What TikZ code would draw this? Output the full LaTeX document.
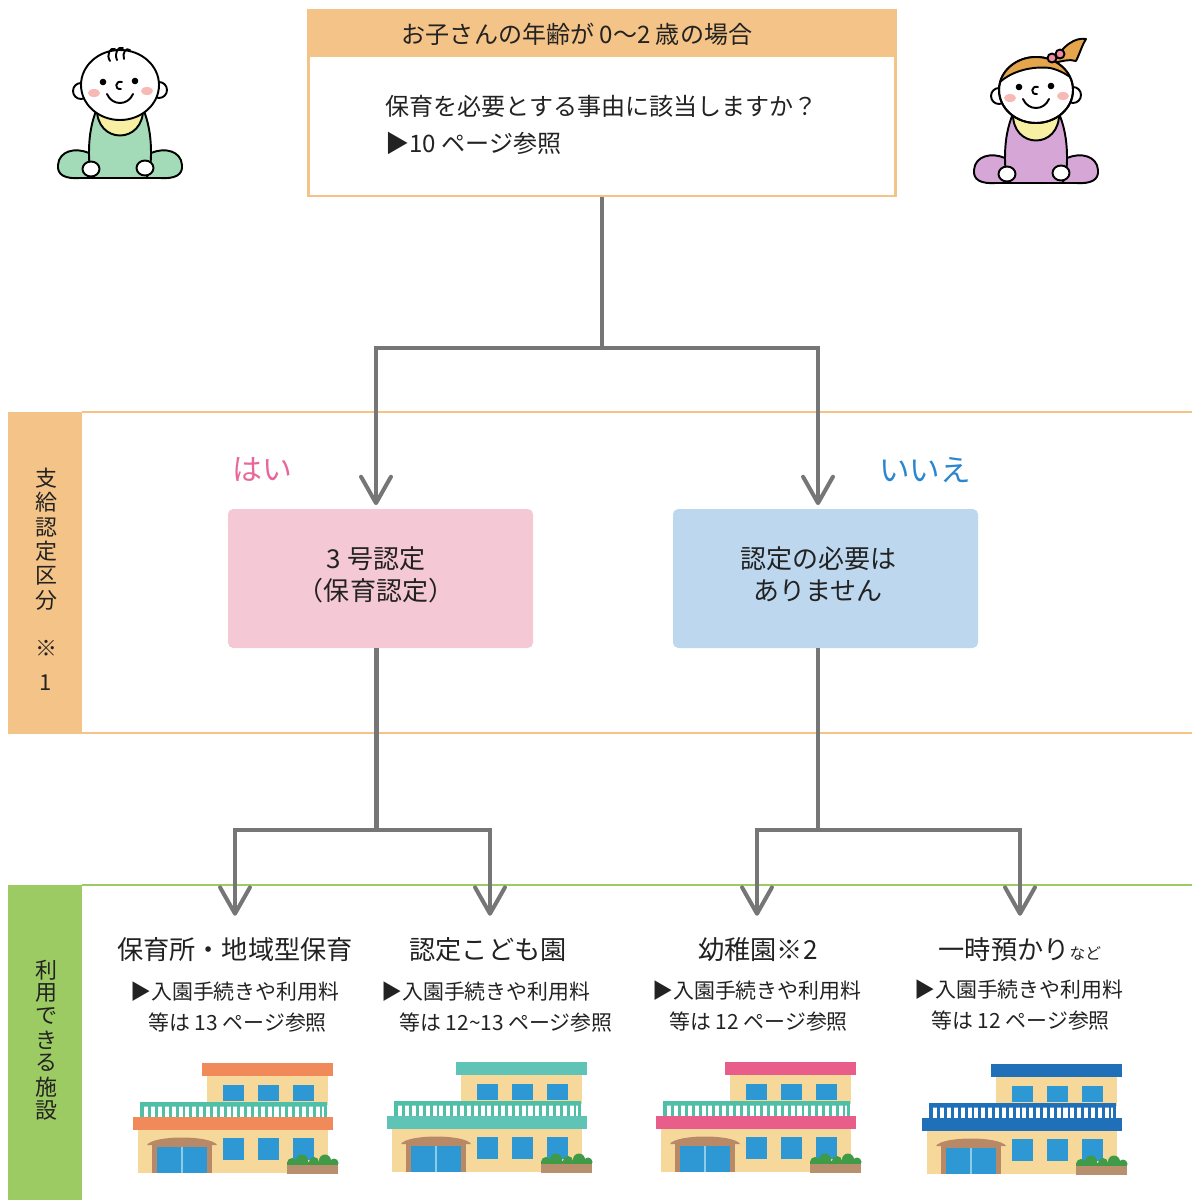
\documentclass[tikz,border=0pt]{standalone}
\usepackage{fontspec}
\setmainfont{Noto Sans CJK JP}
\usetikzlibrary{arrows.meta,calc}

\definecolor{bandorange}{HTML}{F4C387}
\definecolor{bandgreen}{HTML}{9DCB63}
\definecolor{linkgray}{HTML}{767676}
\definecolor{yesfill}{HTML}{F4C8D5}
\definecolor{nofill}{HTML}{BDD7EE}
\definecolor{yesword}{HTML}{E8679A}
\definecolor{noword}{HTML}{2C86CE}
\definecolor{ink}{HTML}{222222}
\definecolor{wall}{HTML}{F6D89A}
\definecolor{glass}{HTML}{2E98D4}
\definecolor{glassline}{HTML}{8CCBEA}
\definecolor{wood}{HTML}{B88966}
\definecolor{planter}{HTML}{B9906E}
\definecolor{bush}{HTML}{3F9B48}
\definecolor{roofA}{HTML}{F08A5B}
\definecolor{roofB}{HTML}{5FC3B6}
\definecolor{roofC}{HTML}{E95D8A}
\definecolor{roofD}{HTML}{1F70B9}
\definecolor{railteal}{HTML}{4FBFA8}
\definecolor{suitgreen}{HTML}{A3DBB8}
\definecolor{suitpurple}{HTML}{D5A6D6}
\definecolor{bibyellow}{HTML}{F7EFA2}
\definecolor{cheek}{HTML}{F7B9B4}
\definecolor{hair}{HTML}{E4A54C}
\definecolor{bow}{HTML}{F08CA0}

\def\u{0.02cm}

\tikzset{
  every node/.style={text=ink},
  conn/.style={draw=linkgray, line width=2.3pt},
  arr/.style={conn, -{Straight Barb[length=15pt,width=17pt,round]}, shorten >=2pt},
  farr/.style={conn, -{Straight Barb[length=15pt,width=17pt,round]}, shorten >=16pt},
  headtxt/.style={font=\fontsize{13.7pt}{16pt}\selectfont, inner sep=0},
  boxtxt/.style={font=\fontsize{14.8pt}{18.1pt}\selectfont, align=center},
  choice/.style={minimum width=305*\u, minimum height=139*\u, rounded corners=3pt, inner sep=0},
  vlab/.style={font=\fontsize{12.5pt}{14pt}\selectfont, inner sep=0},
  factitle/.style={font=\fontsize{14.9pt}{17pt}\selectfont, inner sep=0, text height=0.88em, text depth=0.12em},
  facsub/.style={font=\fontsize{11.9pt}{14pt}\selectfont, inner sep=0, anchor=west},
  outl/.style={draw=black, line width=1.1pt, line join=round, line cap=round},
  % two-storey house: #1 roof and band colour, #2 railing colour
  pics/house/.style 2 args={code={
    \fill[#1] (69,0) rectangle (200,13);
    \fill[wall] (74,13) rectangle (195,42);
    \foreach \wx in {90,125,160}{\fill[glass] (\wx,22) rectangle ++(21,16);}
    \fill[#2, rounded corners=1pt] (7,39) rectangle (194,43.5);
    \foreach \k in {0,...,26}{\fill[#2] ({8.5+\k*6.85},42) rectangle ++(2.8,12);}
    \fill[#2] (7,39) rectangle (10,54);
    \fill[#2] (191,39) rectangle (194,54);
    \fill[#1] (0,54) rectangle (200,67);
    \fill[wall] (5,67) rectangle (195,110);
    \foreach \wx in {90,125,160}{\fill[glass] (\wx,75) rectangle ++(21,22);}
    \fill[wood] (14,82) .. controls (20,72) and (78,72) .. (84,82) -- cycle;
    \fill[wood] (19,80) rectangle (79,110);
    \fill[glass] (24,84) rectangle (74,110);
    \draw[glassline, line width=0.6pt] (49,84) -- (49,110);
    \fill[bush] (159,100) circle (5) (169,97.5) circle (6) (181,99) circle (5)
                (192,97.5) circle (6) (201,100) circle (4.5);
    \fill[bush] (154,99) rectangle (205,103);
    \fill[planter] (154,102) rectangle (205,111);
  }},
  % seated baby body, #1 suit colour
  pics/babybody/.style={code={
    \draw[outl, fill=#1] (-24,26) .. controls (-30,42) and (-31,56) .. (-31,68)
       .. controls (-45,62) and (-61,66) .. (-62,80)
       .. controls (-63,90) and (-55,94) .. (-40,93) -- (40,93)
       .. controls (55,94) and (63,90) .. (62,80)
       .. controls (61,66) and (45,62) .. (31,68)
       .. controls (31,56) and (30,42) .. (24,26) -- cycle;
    \draw[outl] (-31,68) .. controls (-31,78) and (-30,86) .. (-27,92);
    \draw[outl] (31,68) .. controls (31,78) and (30,86) .. (27,92);
    \draw[outl, fill=bibyellow] (-23,22) .. controls (-25,60) and (25,60) .. (23,22) -- cycle;
    \draw[outl, fill=white] (-29,84) ellipse (8.5 and 7.5);
    \draw[outl, fill=white] (25,83) ellipse (8.5 and 7.5);
  }},
  % round face with features, #1 half width, #2 half height
  pics/babyface/.style 2 args={code={
    \draw[outl, fill=white] (-#1,6) circle (8);
    \draw[outl, fill=white] (#1,5) circle (8);
    \draw[outl, fill=white] (0,0) ellipse (#1 and #2);
    \fill[cheek] (-26,8) ellipse (6 and 4);
    \fill[cheek] (27,6) ellipse (6 and 4);
    \fill[black] (-17,-3) circle (3.3);
    \fill[black] (15,-4) circle (3.3);
    \draw[outl] (2,-3) .. controls (-5,-5) and (-6,5) .. (1,4);
    \draw[outl] (-13,9) .. controls (-8,21) and (8,21) .. (13,9);
  }}
}

\begin{document}
\begin{tikzpicture}[x=0.02cm, y=-0.02cm]
\useasboundingbox (0,0) rectangle (1192,1200);

% ---------- babies ----------
\pic at (120,85) {babybody=suitgreen};
\pic at (120,85) {babyface={39}{35}};
\begin{scope}[shift={(120,85)}]
  \draw[outl] (-10,-24) .. controls (-14,-30) and (-10,-38) .. (-5,-36);
  \draw[outl] (-3,-25) .. controls (-6,-32) and (-2,-39) .. (3,-37);
  \draw[outl] (4,-26) .. controls (2,-32) and (6,-38) .. (10,-35);
\end{scope}

\pic at (1036,90) {babybody=suitpurple};
\pic at (1036,90) {babyface={37}{33}};
\begin{scope}[shift={(1036,90)}]
  \draw[outl, fill=hair] (18,-27) .. controls (26,-45) and (40,-53) .. (50,-51)
     .. controls (46,-45) and (44,-37) .. (40,-29) .. controls (34,-31) and (26,-29) .. (18,-27) -- cycle;
  \begin{scope}
    \clip (0,0) ellipse (37 and 33);
    \fill[hair] (-40,-4) .. controls (-26,-20) and (-2,-24) .. (14,-22)
       .. controls (24,-20) and (34,-14) .. (40,-8) -- (40,-40) -- (-40,-40) -- cycle;
    \draw[outl] (-40,-4) .. controls (-26,-20) and (-2,-24) .. (14,-22)
       .. controls (24,-20) and (34,-14) .. (40,-8);
  \end{scope}
  \draw[outl] (0,0) ellipse (37 and 33);
  \draw[outl, fill=bow] (16,-32) circle (4.5);
  \draw[outl, fill=bow] (24,-36) circle (4.5);
\end{scope}

% ---------- question box ----------
\fill[bandorange] (308.5,10) rectangle (895.5,57);
\node[draw=bandorange, line width=1.4pt, minimum width=587*\u, minimum height=186*\u, inner sep=0]
  (q) at (602,103) {};
\node[headtxt] (qhead) at (577,34) {お子さんの年齢が 0～2 歳の場合};
\node[headtxt, anchor=west] (qline1) at (385,106) {保育を必要とする事由に該当しますか？};
\node[headtxt, anchor=west] (qline2) at (385,143) {▶10 ページ参照};

% ---------- certification band ----------
\fill[bandorange] (8,411.5) rectangle (82,733.5);
\draw[bandorange, line width=1.2pt] (82,412) -- (1192,412);
\draw[bandorange, line width=1.2pt] (82,733) -- (1192,733);
\foreach \c/\yy [count=\i] in {支/478,給/502,認/527,定/551,区/576,分/600,※/648,1/683}
  \node[vlab] (cert\i) at (46,\yy) {\c};

\node[font=\fontsize{17pt}{20pt}\selectfont, text=yesword] (yesword) at (262,470) {はい};
\node[font=\fontsize{17.4pt}{20pt}\selectfont, text=noword] (noword) at (925,470) {いいえ};

\node[choice, fill=yesfill] (yes) at (380.5,578.5) {};
\node[boxtxt] (yestxt) at ($(yes)+(-4.5,-4)$) {3 号認定\\（保育認定）};
\node[choice, fill=nofill] (no) at (825.5,578.5) {};
\node[boxtxt] (notxt) at ($(no)+(-7.5,-4)$) {認定の必要は\\ありません};

% ---------- facility band ----------
\fill[bandgreen] (8,884.5) rectangle (82,1200);
\draw[bandgreen, line width=1.2pt] (82,885) -- (1192,885);
\foreach \c/\yy [count=\i] in {利/970,用/993,で/1016,き/1040,る/1063,施/1087,設/1110}
  \node[vlab] (use\i) at (46,\yy) {\c};

\node[factitle] (f1) at (235,953) {保育所・地域型保育};
\node[factitle] (f2) at (488,953) {認定こども園};
\node[factitle] (f3) at (758,953) {幼稚園※2};
\node[factitle] (f4) at (1020,953) {一時預かり{\fontsize{9pt}{10pt}\selectfont など}};

\node[facsub] (f1a) at (130,992) {▶入園手続きや利用料};
\node[facsub] (f1b) at (148,1023) {等は 13 ページ参照};
\node[facsub] (f2a) at (381,992) {▶入園手続きや利用料};
\node[facsub] (f2b) at (399,1023) {等は 12\textasciitilde13 ページ参照};
\node[facsub] (f3a) at (652,991) {▶入園手続きや利用料};
\node[facsub] (f3b) at (669,1022) {等は 12 ページ参照};
\node[facsub] (f4a) at (914,990) {▶入園手続きや利用料};
\node[facsub] (f4b) at (931,1021) {等は 12 ページ参照};

\pic at (133,1063) {house={roofA}{railteal}};
\pic at (387,1062) {house={roofB}{railteal}};
\pic at (656,1062) {house={roofC}{railteal}};
\pic at (922,1064) {house={roofD}{roofD}};

% ---------- connectors ----------
\draw[conn] (q.south) -- (q.south |- 0,348) coordinate (split);
\draw[arr] (split) -| ($(yes.north)+(-4.5,0)$);
\draw[arr] (split) -| ($(no.north)+(-7.5,0)$);

\draw[conn] ($(yes.south)+(-4,0)$) -- ++(0,182) coordinate (splityes);
\draw[farr] (splityes) -| (f1.north);
\draw[farr] (splityes) -| ($(f2.north)+(2,0)$);

\draw[conn] ($(no.south)+(-7.5,0)$) -- ++(0,182) coordinate (splitno);
\draw[farr] (splitno) -| ($(f3.north)+(-1,0)$);
\draw[farr] (splitno) -| (f4.north);
\end{tikzpicture}
\end{document}
